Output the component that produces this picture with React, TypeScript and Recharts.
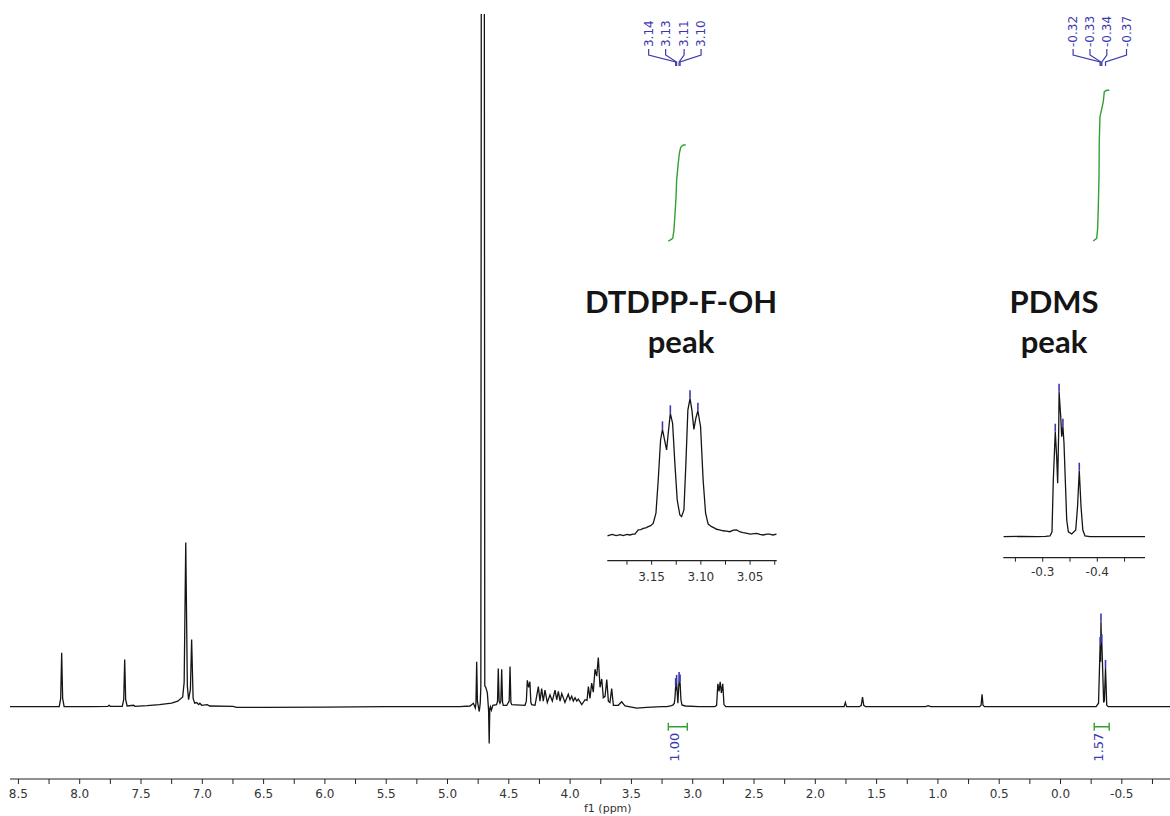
import React from 'react';
import { LineChart, Line, XAxis, YAxis, ReferenceDot, ReferenceArea } from 'recharts';

// 1H NMR spectrum, [ppm, intensity] with the baseline at 0
const aromaticRegion: [number, number][] = [
  [8.568, 0], [8.3, 0], [8.167, 0], [8.155, 1.2], [8.147, 7.8], [8.139, 1.2], [8.127, 0],
  [7.9, 0], [7.77, 0.05], [7.76, 0.2], [7.75, 0.05], [7.653, 0.05], [7.641, 1.0], [7.633, 6.8],
  [7.625, 1.0], [7.613, 0.1], [7.56, 0.2], [7.55, 0.05], [7.45, 0.15], [7.35, 0.3], [7.25, 0.5],
  [7.2, 0.8], [7.16, 1.4], [7.148, 3.5], [7.135, 23.7], [7.122, 3.0], [7.112, 1.0], [7.097, 2.5],
  [7.087, 9.7], [7.075, 1.2], [7.062, 0.5], [7.045, 0.6], [7.03, 0.3], [7.02, 0.5], [7.005, 0.2],
  [6.96, 0.3], [6.94, 0.1], [6.75, 0.05], [6.72, -0.1], [6.5, -0.1], [6.0, -0.05], [5.5, 0],
];

const midRegion: [number, number][] = [
  [5.06, 0], [4.9, 0], [4.816, 0.1], [4.789, 0.5], [4.773, -0.2], [4.768, 0.5], [4.762, 6.5],
  [4.756, 0.8], [4.741, -0.7], [4.733, 0.5], [4.728, 3.0], [4.712, 450], [4.696, 3.0],
  [4.688, 2.8], [4.675, 2.0], [4.665, -0.5], [4.66, -5.3], [4.655, -0.3], [4.65, 0],
  [4.642, -0.5], [4.63, 0.2], [4.6, 0.3], [4.592, 0.8], [4.586, 5.5], [4.579, 0.8], [4.572, 0.5],
  [4.565, 0.8], [4.558, 5.4], [4.551, 0.6], [4.545, 0.2], [4.517, 0.2], [4.497, 0.8], [4.49, 5.8],
  [4.483, 0.6], [4.476, 0.3], [4.368, 0.2], [4.357, 0.8], [4.349, 3.8], [4.338, 2.8], [4.328, 3.6],
  [4.32, 0.6], [4.313, 0.3], [4.286, 0.2], [4.259, 2.9], [4.246, 0.8], [4.232, 2.6], [4.219, 0.8],
  [4.205, 2.4], [4.186, 0.6], [4.164, 1.7], [4.145, 0.8], [4.123, 2.4], [4.109, 1.0], [4.096, 2.2],
  [4.082, 0.8], [4.068, 1.9], [4.042, 0.6], [4.015, 1.8], [4.001, 1.0], [3.987, 1.5], [3.974, 0.8],
  [3.96, 1.3], [3.946, 0.8], [3.933, 1.1], [3.905, 0.3], [3.878, 1.0], [3.862, 0.9], [3.851, 2.9],
  [3.838, 1.2], [3.824, 3.4], [3.811, 2.1], [3.797, 5.4], [3.783, 4.4], [3.77, 7.1], [3.756, 2.8],
  [3.742, 4.0], [3.729, 1.3], [3.715, 1.5], [3.701, 3.9], [3.688, 0.8], [3.675, 0.6], [3.661, 2.6],
  [3.647, 0.2], [3.607, 0.2], [3.58, 0.7], [3.552, 0.1], [3.457, -0.2], [3.375, -0.1], [3.25, 0],
];

const upfieldRegion: [number, number][] = [
  [3.212, 0], [3.18, 0.1], [3.16, 0.25], [3.15, 0.5], [3.145, 1.2], [3.139, 2.96], [3.135, 2.4],
  [3.131, 3.43], [3.121, 0.5], [3.111, 3.85], [3.107, 3.0], [3.103, 3.5], [3.096, 1.0],
  [3.088, 0.25], [3.06, 0.1], [2.95, 0], [2.82, 0], [2.805, 0.2], [2.795, 3.3], [2.785, 2.2],
  [2.776, 3.6], [2.766, 2.0], [2.755, 3.3], [2.745, 0.3], [2.73, 0], [2.3, 0], [1.8, 0],
  [1.765, 0], [1.755, 0.6], [1.745, 0], [1.64, 0], [1.625, 0.2], [1.615, 1.4], [1.605, 0.2],
  [1.59, 0], [1.1, 0], [1.08, 0.15], [1.06, 0], [0.66, 0], [0.648, 0.2], [0.64, 1.8],
  [0.632, 0.2], [0.62, 0], [-0.29, 0], [-0.31, 0.5], [-0.323, 8.9], [-0.327, 6.5], [-0.33, 12.3],
  [-0.334, 9.0], [-0.337, 9.3], [-0.352, 0.6], [-0.358, 0.9], [-0.367, 5.6], [-0.377, 0.2],
  [-0.39, 0], [-0.893, 0],
];

// expanded traces, normalised to the tallest line
const dtdppZoom: [number, number][] = [
  [3.195, -0.007], [3.19, 0.005], [3.186, -0.004], [3.182, 0.003], [3.179, -0.005], [3.175, 0.004],
  [3.172, 0], [3.169, 0.006], [3.167, 0.007], [3.1636, 0.037], [3.161, 0.04], [3.1585, 0.049],
  [3.156, 0.052], [3.1534, 0.061], [3.151, 0.068], [3.1484, 0.085], [3.1456, 0.159],
  [3.1433, 0.4], [3.1409, 0.695], [3.139, 0.773], [3.1365, 0.683], [3.1348, 0.622],
  [3.1328, 0.768], [3.131, 0.89], [3.1287, 0.817], [3.1264, 0.524], [3.124, 0.256],
  [3.1213, 0.146], [3.1196, 0.134], [3.1172, 0.183], [3.1152, 0.524], [3.1132, 0.914],
  [3.111, 1.0], [3.1091, 0.914], [3.1071, 0.773], [3.1051, 0.854], [3.103, 0.909],
  [3.1003, 0.792], [3.0977, 0.402], [3.0952, 0.159], [3.0926, 0.08], [3.0891, 0.061],
  [3.086, 0.05], [3.0841, 0.042], [3.081, 0.038], [3.0774, 0.031], [3.074, 0.028],
  [3.0706, 0.024], [3.067, 0.035], [3.0638, 0.037], [3.06, 0.022], [3.0571, 0.017],
  [3.053, 0.012], [3.05, 0.007], [3.0435, 0.012], [3.04, 0.004], [3.0368, 0], [3.033, 0.006],
  [3.03, 0.007], [3.027, 0], [3.023, 0.007],
];

const pdmsZoom: [number, number][] = [
  [-0.228, 0], [-0.26, 0.002], [-0.29, 0], [-0.305, 0.002], [-0.3134, 0.005], [-0.317, 0.034],
  [-0.3194, 0.39], [-0.323, 0.724], [-0.3256, 0.55], [-0.3274, 0.368], [-0.3293, 0.736],
  [-0.33, 1.0], [-0.333, 0.828], [-0.3348, 0.69], [-0.337, 0.759], [-0.339, 0.644],
  [-0.3414, 0.39], [-0.344, 0.115], [-0.347, 0.034], [-0.3531, 0.019], [-0.3605, 0.046],
  [-0.3638, 0.207], [-0.367, 0.455], [-0.3702, 0.207], [-0.3735, 0.046], [-0.3775, 0.005],
  [-0.3866, 0], [-0.42, 0], [-0.4874, 0],
];

// running integrals, [ppm, cumulative area]
const dtdppIntegral: [number, number][] = [
  [3.199, 0], [3.185, 0.01], [3.163, 0.028], [3.153, 0.115], [3.144, 0.289], [3.136, 0.461],
  [3.131, 0.635], [3.118, 0.809], [3.109, 0.914], [3.098, 0.976], [3.077, 1.0], [3.057, 1.0],
];
const pdmsIntegral: [number, number][] = [
  [-0.267, 0], [-0.295, 0.028], [-0.303, 0.132], [-0.308, 0.341], [-0.314, 0.688],
  [-0.316, 1.034], [-0.322, 1.295], [-0.349, 1.451], [-0.357, 1.555], [-0.377, 1.57],
  [-0.398, 1.57],
];
const dtdppRange = [3.199, 3.044];
const pdmsRange = [-0.275, -0.397];

// picked peaks
const dtdppPeaks = [3.139, 3.131, 3.111, 3.103];
const pdmsPeaks = [-0.323, -0.33, -0.337, -0.367];

const mainTicks = [
  8.5, 8.25, 8.0, 7.75, 7.5, 7.25, 7.0, 6.75, 6.5, 6.25, 6.0, 5.75, 5.5, 5.25, 5.0, 4.75, 4.5,
  4.25, 4.0, 3.75, 3.5, 3.25, 3.0, 2.75, 2.5, 2.25, 2.0, 1.75, 1.5, 1.25, 1.0, 0.75, 0.5, 0.25,
  0.0, -0.25, -0.5, -0.75,
];
const dtdppTicks = [3.175, 3.15, 3.125, 3.1, 3.075, 3.05, 3.025];
const pdmsTicks = [-0.25, -0.3, -0.35, -0.4, -0.45];

const INK = '#151515';
const BLUE = '#3a3ab0';
const GREEN = '#33a033';
const AXIS_FONT = { fontFamily: 'DejaVu Sans', fontSize: 12, fill: '#333' };

const toRows = (pts: [number, number][]) => pts.map(([ppm, v]) => ({ ppm, v }));
const heightAt = (pts: [number, number][], ppm: number) =>
  (pts.find(([p]) => p === ppm) ?? [ppm, 0])[1];

const spectrum = [...aromaticRegion, ...midRegion, ...upfieldRegion];

const onMultiple = (v: number, step: number) => Math.abs(v / step - Math.round(v / step)) < 1e-6;

function PickMark(props: any) {
  const { cx, cy } = props;
  return <line x1={cx} x2={cx} y1={cy - 8} y2={cy} stroke={BLUE} strokeWidth={1.6} />;
}

// rotated shift label with the little fan line down to its peak
function peakLabel(index: number, count: number, text: string) {
  return (props: any) => {
    const { cx, cy } = props;
    const lx = cx + (index - (count - 1) / 2) * 16 - 3;
    return (
      <g>
        <path
          d={`M${lx},${cy + 35} L${lx},${cy + 41} L${cx},${cy + 48} L${cx},${cy + 52}`}
          stroke={BLUE}
          strokeWidth={1.2}
          fill="none"
        />
        <text
          x={lx}
          y={cy + 33}
          transform={`rotate(-90 ${lx} ${cy + 33})`}
          textAnchor="start"
          dominantBaseline="central"
          fontFamily="DejaVu Sans"
          fontSize={12}
          fill={BLUE}
        >
          {text}
        </text>
      </g>
    );
  };
}

// integration bracket under the baseline with its value
function integralMark(value: number) {
  return (props: any) => {
    const { x, y, width } = props;
    const by = y + 20;
    const tx = x + width / 2 - 3.5;
    return (
      <g>
        <path
          d={`M${x},${by - 4} L${x},${by + 4} M${x},${by} L${x + width},${by} M${x + width},${by - 4} L${x + width},${by + 4}`}
          stroke={GREEN}
          strokeWidth={1.4}
          fill="none"
        />
        <text
          x={tx}
          y={by + 6}
          transform={`rotate(-90 ${tx} ${by + 6})`}
          textAnchor="end"
          dominantBaseline="central"
          fontFamily="DejaVu Sans"
          fontSize={13}
          fill={BLUE}
        >
          {value.toFixed(2)}
        </text>
      </g>
    );
  };
}

function ZoomInset({
  left, top, width, height, margin, data, domain, yDomain, ticks, step, peaks, tickGap,
}: any) {
  return (
    <div style={{ position: 'absolute', left, top }}>
      <LineChart width={width} height={height} margin={margin}>
        <XAxis
          type="number"
          dataKey="ppm"
          domain={domain}
          reversed
          allowDataOverflow
          ticks={ticks}
          interval={0}
          tickFormatter={(v: number) => (onMultiple(v, step) ? v.toFixed(step < 0.1 ? 2 : 1) : '')}
          tick={AXIS_FONT}
          tickSize={4}
          tickMargin={tickGap}
          height={30}
          axisLine={{ stroke: '#222', strokeWidth: 1.2 }}
          tickLine={{ stroke: '#222' }}
        />
        <YAxis hide domain={yDomain} allowDataOverflow />
        <Line
          data={toRows(data)}
          dataKey="v"
          type="linear"
          stroke={INK}
          strokeWidth={1.3}
          dot={false}
          activeDot={false}
          isAnimationActive={false}
        />
        {peaks.map((p: number) => (
          <ReferenceDot key={p} x={p} y={heightAt(data, p)} ifOverflow="visible" shape={PickMark} />
        ))}
      </LineChart>
    </div>
  );
}

export default function App() {
  const bigLabel: React.CSSProperties = {
    position: 'absolute',
    width: 260,
    textAlign: 'center',
    fontFamily: 'Lato, sans-serif',
    fontWeight: 700,
    fontSize: 31,
    lineHeight: '40px',
    color: INK,
  };
  return (
    <div style={{ position: 'absolute', left: 0, top: 0, width: 1170, height: 816, background: '#fff' }}>
      <LineChart width={1170} height={816} margin={{ top: 14, right: 0, left: 10, bottom: 7 }}>
        <XAxis
          type="number"
          dataKey="ppm"
          domain={[-0.893, 8.5685]}
          reversed
          allowDataOverflow
          ticks={mainTicks}
          interval={0}
          tickFormatter={(v: number) => (onMultiple(v, 0.5) ? v.toFixed(1) : '')}
          tick={AXIS_FONT}
          tickSize={5}
          tickMargin={5}
          height={30}
          axisLine={{ stroke: '#222', strokeWidth: 1.2 }}
          tickLine={{ stroke: '#222' }}
        />
        <YAxis hide domain={[-10.44, 100]} allowDataOverflow />
        <YAxis hide yAxisId="int" domain={[-5.604, 2.365]} allowDataOverflow />
        <Line
          data={toRows(spectrum)}
          dataKey="v"
          type="linear"
          stroke={INK}
          strokeWidth={1.3}
          dot={false}
          activeDot={false}
          isAnimationActive={false}
        />
        <Line
          data={toRows(dtdppIntegral)}
          yAxisId="int"
          dataKey="v"
          type="linear"
          stroke={GREEN}
          strokeWidth={1.4}
          dot={false}
          activeDot={false}
          isAnimationActive={false}
        />
        <Line
          data={toRows(pdmsIntegral)}
          yAxisId="int"
          dataKey="v"
          type="linear"
          stroke={GREEN}
          strokeWidth={1.4}
          dot={false}
          activeDot={false}
          isAnimationActive={false}
        />
        {[...dtdppPeaks, ...pdmsPeaks].map((p) => (
          <ReferenceDot key={`pk${p}`} x={p} y={heightAt(spectrum, p)} ifOverflow="visible" shape={PickMark} />
        ))}
        {dtdppPeaks.map((p, i) => (
          <ReferenceDot key={`lb${p}`} x={p} y={100} ifOverflow="visible"
            shape={peakLabel(i, dtdppPeaks.length, p.toFixed(2))} />
        ))}
        {pdmsPeaks.map((p, i) => (
          <ReferenceDot key={`lb${p}`} x={p} y={100} ifOverflow="visible"
            shape={peakLabel(i, pdmsPeaks.length, p.toFixed(2))} />
        ))}
        <ReferenceArea x1={dtdppRange[0]} x2={dtdppRange[1]} y1={-1} y2={0} ifOverflow="visible"
          shape={integralMark(dtdppIntegral[dtdppIntegral.length - 1][1])} />
        <ReferenceArea x1={pdmsRange[0]} x2={pdmsRange[1]} y1={-1} y2={0} ifOverflow="visible"
          shape={integralMark(pdmsIntegral[pdmsIntegral.length - 1][1])} />
      </LineChart>

      <div style={{ position: 'absolute', left: 584, top: 802, fontFamily: 'DejaVu Sans', fontSize: 11, lineHeight: '13px', color: '#333' }}>
        f1 (ppm)
      </div>

      <div style={{ ...bigLabel, left: 551, top: 281 }}>DTDPP-F-OH<br />peak</div>
      <div style={{ ...bigLabel, left: 924, top: 281 }}>PDMS<br />peak</div>

      <ZoomInset
        left={597} top={368} width={190} height={232}
        margin={{ top: 9.8, right: 10.3, left: 10.3, bottom: 9.3 }}
        data={dtdppZoom} domain={[3.023, 3.195]} yDomain={[-0.188, 1.15]}
        ticks={dtdppTicks} step={0.05} peaks={dtdppPeaks} tickGap={8}
      />
      <ZoomInset
        left={995} top={368} width={160} height={232}
        margin={{ top: 9.2, right: 10, left: 8.3, bottom: 12.3 }}
        data={pdmsZoom} domain={[-0.4874, -0.2278]} yDomain={[-0.1448, 1.1]}
        ticks={pdmsTicks} step={0.1} peaks={pdmsPeaks} tickGap={6}
      />
    </div>
  );
}
